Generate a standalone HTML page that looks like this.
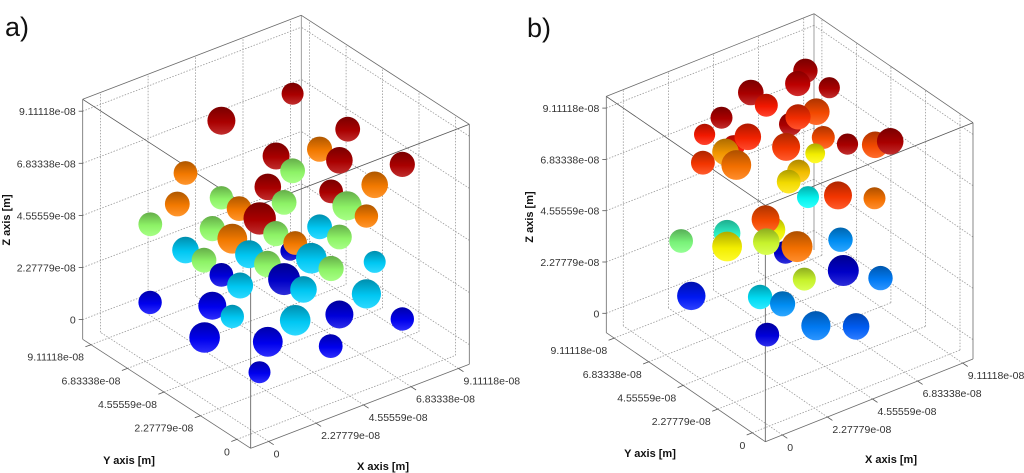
<!DOCTYPE html>
<html><head><meta charset="utf-8"><title>3D sphere scatter</title>
<style>
html,body{margin:0;padding:0;background:#fff;}
svg{display:block;}
text{font-family:"Liberation Sans",sans-serif;}
</style></head>
<body>
<svg id="fig" width="1024" height="473" viewBox="0 0 1024 473" xmlns="http://www.w3.org/2000/svg">
<defs id="defs"></defs>
<text x="5" y="36" font-size="27" fill="#111">a)</text>
<text x="527" y="37" font-size="27" fill="#111">b)</text>
<g id="panelA"></g>
<g id="panelB"></g>
</svg>
<script>
// axis data (values in nm; labels in metres)
const tickValues = [0, 22.7779, 45.5559, 68.3338, 91.1118];
const tickLabels = ['0','2.27779e-08','4.55559e-08','6.83338e-08','9.11118e-08'];
const axisLo = -8.6;
const axisHi = 96.3;

// panel a spheres
const aX = [47.4,27.6,62.7,54.9,42.8,60.4,77.9,47.4,17.6,70.2,40.5,58.1,15.3,27.6,45.0,62.5,32.5,67.9,38.2,7.8,25.0,54.9,42.7,60.4,30.6,46.7,48.1,17.6,35.3,52.6,22.7,40.4,70.2,58.1,27.6,45.0,32.8,50.4,67.9,7.7,25.0,30.6,48.1,60.4,77.9,22.9,40.5,58.0,38.2];
const aY = [38.1,56.8,23.6,31.0,42.4,25.8,9.3,38.1,66.2,16.5,44.6,28.0,68.3,56.8,40.3,23.8,52.1,18.7,46.7,75.4,59.1,31.0,42.5,25.8,53.9,38.7,37.4,66.2,49.5,33.2,61.3,44.7,16.5,28.0,56.8,40.3,51.9,35.2,18.7,75.4,59.1,53.9,37.4,25.8,9.3,61.2,44.6,28.1,46.8];
const aZ = [105.6,92.2,91.3,81.9,78.0,77.5,77.1,71.9,68.6,67.6,64.3,63.7,54.9,58.5,57.9,57.8,54.2,53.7,50.4,45.4,44.9,48.0,44.1,44.0,40.9,36.8,40.4,34.9,34.5,34.1,30.9,30.6,33.9,30.0,24.8,24.4,20.6,20.3,19.7,11.3,11.2,6.9,6.6,10.1,9.5,-2.9,-3.4,-3.9,-16.9];
const aR = [4.8,6.1,5.4,5.5,5.9,5.8,5.5,5.4,5.2,5.8,5.8,5.2,5.4,5.1,5.4,6.4,5.4,5.1,7.1,5.2,5.5,5.4,5.5,5.4,6.5,4.3,5.2,5.8,6.1,6.7,5.4,5.8,4.8,5.5,5.2,7.0,5.7,5.8,6.4,5.1,6.1,5.1,6.7,6.1,5.1,6.7,6.5,5.2,4.8];
const aC = [.95,.95,.95,.75,.95,.95,.95,.52,.75,.75,.95,.95,.75,.52,.52,.52,.75,.75,.95,.52,.52,.33,.52,.52,.75,.08,.75,.33,.33,.33,.52,.52,.33,.52,.1,.08,.33,.33,.33,.12,.12,.33,.33,.1,.12,.12,.12,.12,.12];

// panel b spheres
const bX = [47.4,54.4,31.4,45.1,35.9,22.8,50.6,43.0,45.2,26.4,17.8,30.5,59.8,67.9,72.3,52.7,50.3,41.7,23.9,17.3,27.1,48.2,45.4,42.5,67.7,57.0,24.4,10.9,37.6,35.7,41.5,35.9,24.4,44.9,57.7,58.5,47.1,69.5,13.9,34.1,40.7,50.5,62.3,36.2];
const bY = [38.1,31.5,53.2,40.2,48.9,61.3,35.1,42.2,40.1,57.9,65.9,54.0,26.5,18.8,14.7,33.2,35.4,43.4,60.1,66.4,57.2,37.4,40.0,42.7,19.0,29.1,59.7,72.4,47.3,49.1,43.6,48.9,59.7,40.4,28.4,27.6,38.4,17.4,69.6,50.6,44.4,35.2,24.1,48.6];
const bZ = [114.9,108.0,103.9,109.1,98.7,92.0,97.0,90.9,94.3,79.7,84.2,84.2,83.4,83.8,85.7,85.7,78.5,80.7,77.0,71.6,71.4,58.9,70.2,65.3,60.0,60.4,40.9,36.3,43.5,48.0,33.9,38.1,35.0,36.7,40.8,27.2,22.4,24.7,12.2,13.4,10.9,2.0,2.7,-3.1];
const bR = [5.4,4.7,5.7,5.6,5.1,4.9,5.9,5.1,5.6,4.9,4.7,5.9,4.7,5.9,5.9,5.1,4.4,6.2,5.9,5.3,6.6,4.9,5.1,5.3,4.9,6.2,5.9,5.3,5.9,6.2,5.1,5.9,6.6,6.9,5.4,6.9,5.1,5.4,6.3,5.4,5.6,6.5,5.9,5.3];
const bC = [.95,.95,.95,.93,.85,.95,.8,.95,.83,.86,.85,.84,.95,.8,.95,.8,.63,.82,.72,.82,.76,.38,.68,.65,.76,.82,.42,.5,.62,.8,.08,.58,.63,.76,.27,.08,.58,.25,.15,.35,.27,.25,.22,.1];

const NS = 'http://www.w3.org/2000/svg';
const defs = document.getElementById('defs');
let gradCount = 0;

function jet(v){
  const cl = t => Math.max(0, Math.min(1, t));
  return [cl(1.5 - Math.abs(4*v - 3)), cl(1.5 - Math.abs(4*v - 2)), cl(1.5 - Math.abs(4*v - 1))];
}
function rgb(c, f, w){
  const m = c.map(v => Math.round(255 * Math.min(1, v * f + (1 - v * f) * w)));
  return 'rgb(' + m.join(',') + ')';
}
function makeProj(P){
  const span = axisHi - axisLo;
  return function(x, y, z){
    const a = (x - axisLo) / span, b = (y - axisLo) / span, c = (z - axisLo) / span;
    return [P.F[0] + a*P.ex[0] + b*P.ey[0], P.F[1] + a*P.ex[1] + b*P.ey[1] + c*P.ez];
  };
}
function line(g, p, q, stroke, dash, name){
  const l = document.createElementNS(NS, 'line');
  l.setAttribute('x1', p[0].toFixed(1)); l.setAttribute('y1', p[1].toFixed(1));
  l.setAttribute('x2', q[0].toFixed(1)); l.setAttribute('y2', q[1].toFixed(1));
  l.setAttribute('stroke', stroke); l.setAttribute('stroke-width', '0.8');
  if (dash) l.setAttribute('stroke-dasharray', dash);
  
  
  g.appendChild(l);
}
function text(g, x, y, s, anchor, name, bold, rot){
  const t = document.createElementNS(NS, 'text');
  t.setAttribute('x', x.toFixed(1)); t.setAttribute('y', y.toFixed(1));
  t.setAttribute('font-size', bold ? '11' : '10.5');
  t.setAttribute('fill', bold ? '#111' : '#333');
  t.setAttribute('text-anchor', anchor);
  if (bold) t.setAttribute('font-weight', 'bold');
  if (rot) t.setAttribute('transform', 'rotate(-90 ' + x + ' ' + y + ')');
  t.textContent = s;
  
  
  g.appendChild(t);
}

function drawPanel(gid, P, X, Y, Z, R, C, titles){
  const g = document.getElementById(gid);
  const pr = makeProj(P);
  const lo = axisLo, hi = axisHi;
  const grid = '#9a9a9a', dash = '1.5,1.5';
  tickValues.forEach(t => {
    line(g, pr(t, lo, lo), pr(t, hi, lo), grid, dash, 'floor-gridline');
    line(g, pr(lo, t, lo), pr(hi, t, lo), grid, dash, 'floor-gridline');
    line(g, pr(hi, t, lo), pr(hi, t, hi), grid, dash, 'wall-gridline');
    line(g, pr(t, hi, lo), pr(t, hi, hi), grid, dash, 'wall-gridline');
    line(g, pr(hi, lo, t), pr(hi, hi, t), grid, dash, 'wall-gridline');
    line(g, pr(lo, hi, t), pr(hi, hi, t), grid, dash, 'wall-gridline');
  });
  const E = '#6a6a6a';
  line(g, pr(hi,hi,lo), pr(hi,hi,hi), '#888', null, 'box-edge');
  line(g, pr(lo,hi,hi), pr(hi,hi,hi), E, null, 'box-edge');
  line(g, pr(hi,hi,hi), pr(hi,lo,hi), E, null, 'box-edge');
  line(g, pr(hi,lo,hi), pr(hi,lo,lo), E, null, 'box-edge');
  line(g, pr(hi,lo,lo), pr(lo,lo,lo), E, null, 'x-axis-line');
  line(g, pr(lo,lo,lo), pr(lo,hi,lo), E, null, 'y-axis-line');
  line(g, pr(lo,hi,lo), pr(lo,hi,hi), E, null, 'z-axis-line');
  line(g, pr(lo,lo,hi), pr(lo,hi,hi), '#555', null, 'box-edge');
  line(g, pr(lo,lo,hi), pr(hi,lo,hi), '#555', null, 'box-edge');
  line(g, pr(lo,lo,hi), pr(lo,lo,lo), '#555', null, 'box-edge');
  const exl = Math.hypot(P.ex[0], P.ex[1]), eyl = Math.hypot(P.ey[0], P.ey[1]);
  tickValues.forEach((t, i) => {
    const pz = pr(lo, hi, t);
    line(g, pz, [pz[0]-4, pz[1]], '#555', null, 'z-tick');
    text(g, pz[0]-7, pz[1]+4, tickLabels[i], 'end', 'z-tick-label');
    const py = pr(lo, t, lo);
    line(g, py, [py[0]-P.ex[0]/exl*6, py[1]-P.ex[1]/exl*6], '#555', null, 'y-tick');
    text(g, py[0]-7, py[1]+16, tickLabels[i], 'end', 'y-tick-label');
    const px = pr(t, lo, lo);
    line(g, px, [px[0]-P.ey[0]/eyl*6, px[1]-P.ey[1]/eyl*6], '#555', null, 'x-tick');
    text(g, px[0]+5, px[1]+16, tickLabels[i], 'start', 'x-tick-label');
  });
  text(g, titles.z[0], titles.z[1], 'Z axis [m]', 'middle', 'z-axis-title', true, true);
  text(g, titles.y[0], titles.y[1], 'Y axis [m]', 'middle', 'y-axis-title', true);
  text(g, titles.x[0], titles.x[1], 'X axis [m]', 'middle', 'x-axis-title', true);
  const k = Math.abs(P.ez) / (hi - lo);
  for (let i = 0; i < X.length; i++){
    const p = pr(X[i], Y[i], Z[i]);
    const col = jet(C[i]);
    const id = 'sg' + (gradCount++);
    const lg = document.createElementNS(NS, 'linearGradient');
    lg.setAttribute('id', id);
    lg.setAttribute('x1', '0'); lg.setAttribute('y1', '0'); lg.setAttribute('x2', '0'); lg.setAttribute('y2', '1');
    [[0, 0.68, 0], [0.55, 0.95, 0], [1, 1, 0.18]].forEach(s => {
      const st = document.createElementNS(NS, 'stop');
      st.setAttribute('offset', s[0]);
      st.setAttribute('stop-color', rgb(col, s[1], s[2]));
      lg.appendChild(st);
    });
    defs.appendChild(lg);
    const c = document.createElementNS(NS, 'circle');
    c.setAttribute('cx', p[0].toFixed(1));
    c.setAttribute('cy', p[1].toFixed(1));
    c.setAttribute('r', (R[i] * k).toFixed(1));
    c.setAttribute('fill', 'url(#' + id + ')');
    
    
    g.appendChild(c);
  }
}

drawPanel('panelA', {F:[250.7,448.3], ex:[218.6,-84], ey:[-168,-109], ez:-240},
  aX, aY, aZ, aR, aC, {z:[10,220], y:[129,464], x:[383,470]});
drawPanel('panelB', {F:[765.3,441.7], ex:[207.7,-82.7], ey:[-159,-109], ez:-236.3},
  bX, bY, bZ, bR, bC, {z:[533,217], y:[650,457], x:[891,463]});
</script>
</body></html>
